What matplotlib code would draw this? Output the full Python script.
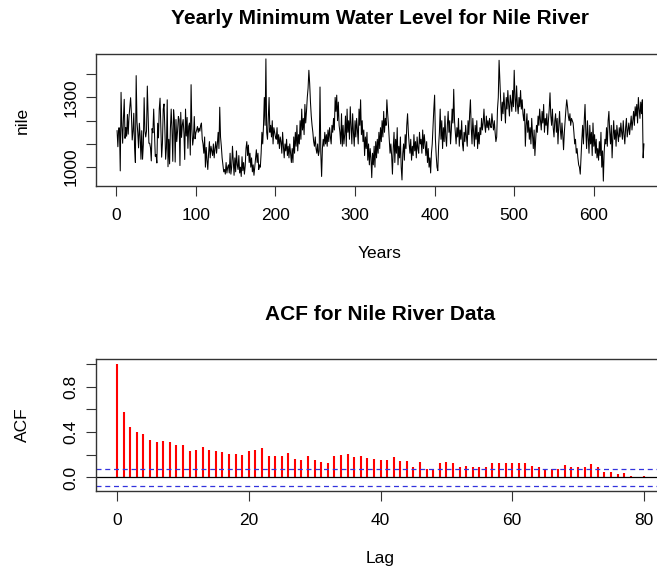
import numpy as np
import matplotlib
matplotlib.use("Agg")
import matplotlib.pyplot as plt

# yearly minimum water level, years 1..663
nile = [
    1157, 1088, 1169, 1169, 984, 1322, 1178, 1103, 1211, 1292,
    1124, 1171, 1133, 1227, 1142, 1216, 1259, 1299, 1232, 1117,
    1155, 1232, 1083, 1020, 1394, 1196, 1148, 1083, 1189, 1133,
    1034, 1157, 1034, 1097, 1299, 1157, 1130, 1155, 1349, 1232,
    1103, 1103, 1083, 1027, 1166, 1148, 1250, 1155, 1047, 1054,
    1018, 1189, 1126, 1250, 1297, 1178, 1043, 1103, 1250, 1272,
    1169, 1034, 1083, 1290, 1002, 1120, 1014, 1166, 1250, 1160,
    1025, 1247, 1203, 1022, 1205, 1110, 1155, 1218, 1205, 1007,
    1236, 1128, 1182, 1205, 1146, 1033, 1250, 1134, 1214, 1081,
    1176, 1190, 1052, 1355, 1163, 1095, 1126, 1218, 1122, 1148,
    1160, 1175, 1150, 1168, 1155, 1180, 1190, 1120, 1100, 1060,
    1130, 1000, 1085, 1030, 990, 1060, 1110, 1040, 1090, 1070,
    1050, 1100, 1040, 1080, 1110, 1060, 1100, 1150, 1080, 1258,
    1130, 1090, 1040, 1010, 980, 990, 970, 1020, 975, 1000,
    1010, 975, 1060, 970, 1000, 1090, 1030, 965, 1040, 980,
    1070, 1010, 990, 1050, 975, 1000, 960, 1045, 985, 1020,
    970, 1005, 1080, 1110, 1050, 1095, 1020, 1060, 1000, 1040,
    980, 1010, 965, 1000, 1040, 1075, 1020, 1060, 990, 1010,
    1000, 1060, 1150, 1100, 1180, 1300, 1180, 1466, 1150, 1120,
    1210, 1300, 1150, 1180, 1130, 1200, 1100, 1170, 1150, 1130,
    1120, 1170, 1100, 1140, 1080, 1130, 1110, 1060, 1150, 1090,
    1040, 1100, 1070, 1120, 1050, 1090, 1040, 1100, 1060, 1020,
    1080, 1020, 1130, 1060, 1150, 1090, 1180, 1070, 1140, 1100,
    1200, 1120, 1250, 1160, 1210, 1140, 1270, 1190, 1240, 1300,
    1340, 1417, 1360, 1280, 1220, 1180, 1150, 1110, 1090, 1130,
    1080, 1060, 1100, 1050, 1070, 1345, 1060, 960, 1080, 1120,
    1090, 1150, 1100, 1140, 1090, 1160, 1110, 1170, 1130, 1100,
    1180, 1150, 1210, 1160, 1300, 1240, 1310, 1200, 1280, 1180,
    1150, 1100, 1230, 1090, 1180, 1100, 1140, 1220, 1090, 1250,
    1150, 1200, 1120, 1260, 1180, 1100, 1230, 1150, 1090, 1200,
    1130, 1210, 1160, 1100, 1250, 1180, 1290, 1140, 1200, 1110,
    1160, 1050, 1130, 1080, 1150, 1030, 1100, 1010, 1080, 1040,
    955, 1060, 1010, 1090, 1000, 1110, 1040, 1120, 1060, 1150,
    1080, 1170, 1110, 1200, 1130, 1240, 1150, 1210, 1180, 1290,
    1230, 1180, 1120, 1060, 1100, 1050, 970, 1080, 1150, 1020,
    1120, 1060, 1170, 1010, 1090, 1040, 1130, 1000, 945, 1060,
    1100, 1030, 1140, 1080, 1180, 1230, 1150, 1100, 1060, 1120,
    1030, 1090, 1050, 1140, 1070, 1110, 1040, 1130, 1080, 1060,
    1150, 1100, 1120, 1060, 1160, 1080, 1140, 1100, 1050, 1110,
    1020, 1080, 1000, 1040, 975, 1060, 1100, 1180, 1250, 1310,
    1120, 1050, 1000, 985, 1090, 1150, 1250, 1120, 1200, 1080,
    1170, 1110, 1220, 1130, 1090, 1180, 1240, 1150, 1200, 1100,
    1160, 1250, 1190, 1335, 1200, 1150, 1100, 1170, 1130, 1210,
    1090, 1160, 1120, 1200, 1100, 1070, 1150, 1110, 1180, 1130,
    1090, 1200, 1140, 1230, 1290, 1170, 1100, 1210, 1150, 1090,
    1180, 1120, 1200, 1080, 1150, 1100, 1170, 1140, 1210, 1160,
    1190, 1250, 1180, 1150, 1220, 1170, 1200, 1160, 1210, 1180,
    1170, 1230, 1190, 1160, 1200, 1150, 1110, 1130, 1250, 1300,
    1460, 1370, 1290, 1200, 1280, 1230, 1320, 1260, 1190, 1300,
    1250, 1330, 1270, 1220, 1310, 1280, 1240, 1330, 1260, 1417,
    1300, 1240, 1350, 1270, 1230, 1300, 1260, 1330, 1250, 1290,
    1230, 1200, 1250, 1090, 1180, 1230, 1150, 1200, 1120, 1170,
    1100, 1210, 1140, 1080, 1160, 1050, 1120, 1180, 1150, 1220,
    1180, 1250, 1200, 1160, 1240, 1190, 1270, 1150, 1210, 1180,
    1230, 1140, 1200, 1250, 1320, 1220, 1180, 1250, 1170, 1130,
    1200, 1230, 1150, 1210, 1100, 1180, 1240, 1160, 1120, 1190,
    1140, 1075, 1150, 1200, 1250, 1290, 1260, 1220, 1200, 1230,
    1180, 1210, 1200, 1190, 1150, 1100, 1120, 1060, 1080, 1040,
    1010, 1000, 970, 1050, 1120, 1180, 1100, 1200, 1270, 1150,
    1080, 1200, 1130, 1060, 1180, 1100, 1150, 1050, 1190, 1090,
    1140, 1060, 1120, 1040, 1080, 1030, 1110, 1050, 1150, 1000,
    1070, 940, 1060, 1120, 1100, 1170, 1090, 1200, 1240, 1150,
    1100, 1180, 1040, 1130, 1200, 1120, 1160, 1090, 1180, 1140,
    1110, 1170, 1130, 1190, 1150, 1120, 1200, 1140, 1100, 1170,
    1210, 1130, 1160, 1190, 1140, 1180, 1220, 1160, 1200, 1240,
    1180, 1260, 1220, 1270, 1190, 1300, 1250, 1210, 1280, 1230,
    1290, 1040, 1100,
]
years = np.arange(1, len(nile) + 1)

# sample autocorrelation, lags 0..80
acf = [
    1.0, 0.575, 0.444, 0.40, 0.38, 0.333, 0.31, 0.324, 0.315, 0.29,
    0.283, 0.234, 0.24, 0.27, 0.24, 0.234, 0.228, 0.207, 0.207, 0.20,
    0.234, 0.24, 0.257, 0.187, 0.187, 0.187, 0.216, 0.166, 0.152, 0.193,
    0.152, 0.14, 0.126, 0.187, 0.20, 0.207, 0.18, 0.187, 0.172, 0.163,
    0.152, 0.158, 0.178, 0.149, 0.143, 0.096, 0.137, 0.076, 0.076, 0.126,
    0.137, 0.126, 0.088, 0.102, 0.096, 0.088, 0.096, 0.128, 0.126, 0.126,
    0.131, 0.126, 0.131, 0.102, 0.096, 0.073, 0.079, 0.073, 0.108, 0.096,
    0.096, 0.096, 0.123, 0.096, 0.044, 0.047, 0.035, 0.041, 0.009, -0.003,
    0.015,
]
lags = np.arange(len(acf))
ci = 1.96 / np.sqrt(len(nile))

plt.rcParams['font.family'] = ['Liberation Sans', 'DejaVu Sans']
plt.rcParams['font.size'] = 12.5

fig = plt.figure(figsize=(6.57, 5.70), dpi=100)
W, H = 657, 570


def px_axes(left, top, right, bottom):
    return fig.add_axes([left / W, 1 - bottom / H, (right - left) / W, (bottom - top) / H])


def r_style(ax):
    for s in ax.spines.values():
        s.set_color('#333333')
        s.set_linewidth(1.0)
    ax.tick_params(direction='out', length=7.5, width=0.8, color='#333333',
                   labelsize=12.5, pad=8)
    ax.tick_params(axis='y', pad=5)
    for lab in ax.get_yticklabels():
        lab.set_rotation(90)
        lab.set_va('center')


# top: time series
ax1 = px_axes(96, 54, 665, 186)
ax1.plot(years, nile, color='black', linewidth=0.75)
ax1.margins(x=0.04, y=0.04)
ax1.set_xticks([0, 100, 200, 300, 400, 500, 600])
ax1.set_yticks([1000, 1100, 1200, 1300, 1400])
ax1.set_yticklabels(['1000', '', '', '1300', ''])
r_style(ax1)
fig.text(380 / W, 1 - 18 / H, 'Yearly Minimum Water Level for Nile River',
         ha='center', va='center', fontsize=15, fontweight='bold')
fig.text(380 / W, 1 - 253 / H, 'Years', ha='center', va='center', fontsize=12.5)
fig.text(22 / W, 1 - 120 / H, 'nile', ha='center', va='center', rotation=90, fontsize=12.5)

# bottom: ACF
ax2 = px_axes(96, 359, 665, 491)
ax2.vlines(lags, 0, acf, color='red', linewidth=1.5)
ax2.axhline(0, color='black', linewidth=0.9)
ax2.axhline(ci, color='#3333dd', linewidth=0.9, linestyle=(0, (4, 3)))
ax2.axhline(-ci, color='#3333dd', linewidth=0.9, linestyle=(0, (4, 3)))
ax2.set_xlim(-3.2, 83.2)
ax2.set_ylim(-0.119, 1.043)
ax2.set_xticks([0, 20, 40, 60, 80])
ax2.set_yticks([0.0, 0.2, 0.4, 0.6, 0.8, 1.0])
ax2.set_yticklabels(['0.0', '', '0.4', '', '0.8', ''])
r_style(ax2)
fig.text(380 / W, 1 - 314 / H, 'ACF for Nile River Data',
         ha='center', va='center', fontsize=15, fontweight='bold')
fig.text(380 / W, 1 - 559 / H, 'Lag', ha='center', va='center', fontsize=12.5)
fig.text(22 / W, 1 - 425 / H, 'ACF', ha='center', va='center', rotation=90, fontsize=12.5)

fig.savefig('out.png', dpi=100)
